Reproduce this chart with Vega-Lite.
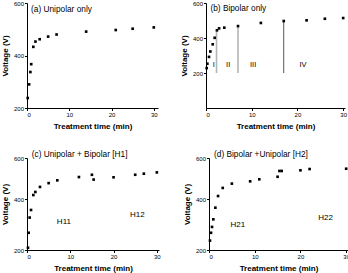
{
  "$schema": "https://vega.github.io/schema/vega-lite/v6.json",
  "padding": {"left": 1, "top": 0, "right": 0, "bottom": 0},
  "background": "white",
  "config": {
    "font": "Liberation Sans",
    "view": {"stroke": null},
    "axis": {
      "grid": false,
      "domainColor": "#000",
      "domainWidth": 1,
      "tickColor": "#000",
      "tickWidth": 1,
      "tickSize": 2,
      "labelPadding": 1,
      "labelOverlap": false,
      "labelFont": "Liberation Sans",
      "labelFontSize": 6,
      "labelColor": "#000",
      "titleFont": "Liberation Sans",
      "titleFontSize": 8,
      "titleFontWeight": "bold",
      "titleColor": "#000"
    },
    "axisX": {"titlePadding": 5},
    "axisY": {"titlePadding": 4},
    "point": {"shape": "square", "filled": true, "color": "#000", "size": 7, "opacity": 1},
    "text": {"font": "Liberation Sans", "color": "#000", "align": "left", "baseline": "middle"}
  },
  "datasets": {
    "unipolar_only": [
      {"time": 0.17, "voltage": 238}, {"time": 0.5, "voltage": 290}, {"time": 0.8, "voltage": 337},
      {"time": 1.0, "voltage": 367}, {"time": 1.5, "voltage": 433}, {"time": 2.0, "voltage": 453},
      {"time": 3.0, "voltage": 462}, {"time": 5.0, "voltage": 472}, {"time": 7.0, "voltage": 480},
      {"time": 14.0, "voltage": 491}, {"time": 21.0, "voltage": 497}, {"time": 25.0, "voltage": 502},
      {"time": 30.0, "voltage": 507}
    ],
    "bipolar_only": [
      {"time": 0.15, "voltage": 228}, {"time": 0.3, "voltage": 253}, {"time": 0.66, "voltage": 292},
      {"time": 0.95, "voltage": 323}, {"time": 1.47, "voltage": 364}, {"time": 1.9, "voltage": 401},
      {"time": 2.4, "voltage": 444}, {"time": 2.86, "voltage": 455}, {"time": 4.0, "voltage": 459},
      {"time": 7.0, "voltage": 468}, {"time": 12.0, "voltage": 486}, {"time": 17.0, "voltage": 497},
      {"time": 22.0, "voltage": 501}, {"time": 26.0, "voltage": 510}, {"time": 30.0, "voltage": 514}
    ],
    "uni_then_bi": [
      {"time": 0.23, "voltage": 209}, {"time": 0.39, "voltage": 268}, {"time": 0.62, "voltage": 328},
      {"time": 0.93, "voltage": 358}, {"time": 1.46, "voltage": 417}, {"time": 1.93, "voltage": 429},
      {"time": 3.0, "voltage": 449}, {"time": 5.0, "voltage": 464}, {"time": 7.0, "voltage": 475},
      {"time": 12.0, "voltage": 488}, {"time": 15.0, "voltage": 497}, {"time": 15.4, "voltage": 478},
      {"time": 20.0, "voltage": 487}, {"time": 25.0, "voltage": 497}, {"time": 27.0, "voltage": 502},
      {"time": 30.0, "voltage": 510}
    ],
    "bi_then_uni": [
      {"time": 0.22, "voltage": 237}, {"time": 0.44, "voltage": 268}, {"time": 0.66, "voltage": 291},
      {"time": 0.95, "voltage": 321}, {"time": 1.39, "voltage": 367}, {"time": 1.98, "voltage": 413},
      {"time": 3.0, "voltage": 445}, {"time": 5.0, "voltage": 462}, {"time": 9.0, "voltage": 471},
      {"time": 11.0, "voltage": 479}, {"time": 15.0, "voltage": 489}, {"time": 15.4, "voltage": 519},
      {"time": 15.9, "voltage": 519}, {"time": 20.0, "voltage": 523}, {"time": 22.0, "voltage": 531},
      {"time": 30.0, "voltage": 533}
    ]
  },
  "spacing": 18,
  "vconcat": [
    {
      "hconcat": [
        {
          "width": 131,
          "height": 105,
          "layer": [
            {
              "data": {"name": "unipolar_only"},
              "mark": "point",
              "encoding": {
                "x": {"field": "time", "type": "quantitative", "title": "Treatment time (min)",
                  "scale": {"domain": [0, 31], "nice": false},
                  "axis": {"values": [0, 2.5, 5, 7.5, 10, 12.5, 15, 17.5, 20, 22.5, 25, 27.5, 30],
                    "labelOverlap": false,
                    "labelExpr": "datum.value % 5 === 0 ? datum.label : ''",
                    "tickSize": {"condition": {"test": "datum.value % 5 === 0", "value": 2.5}, "value": 1.5}}},
                "y": {"field": "voltage", "type": "quantitative", "title": "Voltage (V)",
                  "scale": {"domain": [200, 600], "nice": false},
                  "axis": {"values": [200, 250, 300, 350, 400, 450, 500, 550, 600],
                    "labelOverlap": false,
                    "labelExpr": "datum.value % 100 === 0 ? datum.label : ''",
                    "tickSize": {"condition": {"test": "datum.value % 100 === 0", "value": 2.5}, "value": 1.5}}}
              }
            },
            {
              "data": {"values": [{"time": 0.95, "voltage": 573, "note": "(a) Unipolar only"}]},
              "mark": {"type": "text", "fontSize": 8.3},
              "encoding": {
                "x": {"field": "time", "type": "quantitative"},
                "y": {"field": "voltage", "type": "quantitative"},
                "text": {"field": "note"}
              }
            }
          ]
        },
        {
          "width": 139,
          "height": 105,
          "layer": [
            {
              "data": {"values": [
                {"time": 2.3, "voltage": 445, "base": 200, "shade": "light"},
                {"time": 7.0, "voltage": 468, "base": 200, "shade": "light"},
                {"time": 17.0, "voltage": 497, "base": 200, "shade": "dark"}
              ]},
              "mark": "rule",
              "encoding": {
                "x": {"field": "time", "type": "quantitative"},
                "y": {"field": "voltage", "type": "quantitative"},
                "y2": {"field": "base"},
                "color": {"field": "shade", "type": "nominal", "legend": null,
                  "scale": {"domain": ["light", "dark"], "range": ["#b5b5b5", "#585858"]}},
                "strokeWidth": {"field": "shade", "type": "nominal", "legend": null,
                  "scale": {"domain": ["light", "dark"], "range": [1.6, 1]}}
              }
            },
            {
              "data": {"name": "bipolar_only"},
              "mark": "point",
              "encoding": {
                "x": {"field": "time", "type": "quantitative", "title": "Treatment time (min)",
                  "scale": {"domain": [0, 30.4], "nice": false},
                  "axis": {"values": [0, 2.5, 5, 7.5, 10, 12.5, 15, 17.5, 20, 22.5, 25, 27.5, 30],
                    "labelOverlap": false,
                    "labelExpr": "datum.value % 5 === 0 ? datum.label : ''",
                    "tickSize": {"condition": {"test": "datum.value % 5 === 0", "value": 2.5}, "value": 1.5}}},
                "y": {"field": "voltage", "type": "quantitative", "title": "Voltage (V)",
                  "scale": {"domain": [200, 600], "nice": false},
                  "axis": {"values": [200, 250, 300, 350, 400, 450, 500, 550, 600],
                    "labelOverlap": false,
                    "labelExpr": "datum.value % 100 === 0 ? datum.label : ''",
                    "tickSize": {"condition": {"test": "datum.value % 100 === 0", "value": 2.5}, "value": 1.5}}}
              }
            },
            {
              "data": {"values": [
                {"time": 0.97, "voltage": 567, "note": "(b) Bipolar only"}
              ]},
              "mark": {"type": "text", "fontSize": 8.3},
              "encoding": {
                "x": {"field": "time", "type": "quantitative"},
                "y": {"field": "voltage", "type": "quantitative"},
                "text": {"field": "note"}
              }
            },
            {
              "data": {"values": [
                {"time": 1.7, "voltage": 248, "stage": "I"},
                {"time": 4.85, "voltage": 248, "stage": "II"},
                {"time": 10.3, "voltage": 248, "stage": "III"},
                {"time": 21.2, "voltage": 248, "stage": "IV"}
              ]},
              "mark": {"type": "text", "fontSize": 7.5, "align": "center"},
              "encoding": {
                "x": {"field": "time", "type": "quantitative"},
                "y": {"field": "voltage", "type": "quantitative"},
                "text": {"field": "stage"}
              }
            }
          ]
        }
      ],
      "spacing": 48,
      "bounds": "flush"
    },
    {
      "hconcat": [
        {
          "width": 132,
          "height": 92,
          "layer": [
            {
              "data": {"name": "uni_then_bi"},
              "mark": "point",
              "encoding": {
                "x": {"field": "time", "type": "quantitative", "title": "Treatment time (min)",
                  "scale": {"domain": [0, 30.5], "nice": false},
                  "axis": {"values": [0, 2.5, 5, 7.5, 10, 12.5, 15, 17.5, 20, 22.5, 25, 27.5, 30],
                    "labelOverlap": false,
                    "labelExpr": "datum.value % 5 === 0 ? datum.label : ''",
                    "tickSize": {"condition": {"test": "datum.value % 5 === 0", "value": 2.5}, "value": 1.5}}},
                "y": {"field": "voltage", "type": "quantitative", "title": "Voltage (V)",
                  "scale": {"domain": [200, 500, 600], "range": [92, 16, 0]},
                  "axis": {"values": [200, 250, 300, 350, 400, 450, 500, 550, 600],
                    "labelOverlap": false,
                    "labelExpr": "datum.value % 100 === 0 ? datum.label : ''",
                    "tickSize": {"condition": {"test": "datum.value % 100 === 0", "value": 2.5}, "value": 1.5}}}
              }
            },
            {
              "data": {"values": [
                {"time": 1.1, "voltage": 616, "note": "(c) Unipolar + Bipolar [H1]"}
              ]},
              "mark": {"type": "text", "fontSize": 8.3},
              "encoding": {
                "x": {"field": "time", "type": "quantitative"},
                "y": {"field": "voltage", "type": "quantitative"},
                "text": {"field": "note"}
              }
            },
            {
              "data": {"values": [
                {"time": 6.9, "voltage": 312, "note": "H11"},
                {"time": 23.8, "voltage": 338, "note": "H12"}
              ]},
              "mark": {"type": "text", "fontSize": 8},
              "encoding": {
                "x": {"field": "time", "type": "quantitative"},
                "y": {"field": "voltage", "type": "quantitative"},
                "text": {"field": "note"}
              }
            }
          ]
        },
        {
          "width": 139,
          "height": 92,
          "layer": [
            {
              "data": {"name": "bi_then_uni"},
              "mark": "point",
              "encoding": {
                "x": {"field": "time", "type": "quantitative", "title": "Treatment time (min)",
                  "scale": {"domain": [0, 30.4], "nice": false},
                  "axis": {"values": [0, 2.5, 5, 7.5, 10, 12.5, 15, 17.5, 20, 22.5, 25, 27.5, 30],
                    "labelOverlap": false,
                    "labelExpr": "datum.value % 5 === 0 ? datum.label : ''",
                    "tickSize": {"condition": {"test": "datum.value % 5 === 0", "value": 2.5}, "value": 1.5}}},
                "y": {"field": "voltage", "type": "quantitative", "title": "Voltage (V)",
                  "scale": {"domain": [200, 500, 600], "range": [92, 16, 0]},
                  "axis": {"values": [200, 250, 300, 350, 400, 450, 500, 550, 600],
                    "labelOverlap": false,
                    "labelExpr": "datum.value % 100 === 0 ? datum.label : ''",
                    "tickSize": {"condition": {"test": "datum.value % 100 === 0", "value": 2.5}, "value": 1.5}}}
              }
            },
            {
              "data": {"values": [
                {"time": 1.1, "voltage": 620, "note": "(d) Bipolar +Unipolar [H2]"}
              ]},
              "mark": {"type": "text", "fontSize": 8.3},
              "encoding": {
                "x": {"field": "time", "type": "quantitative"},
                "y": {"field": "voltage", "type": "quantitative"},
                "text": {"field": "note"}
              }
            },
            {
              "data": {"values": [
                {"time": 4.7, "voltage": 297, "note": "H21"},
                {"time": 23.9, "voltage": 328, "note": "H22"}
              ]},
              "mark": {"type": "text", "fontSize": 8},
              "encoding": {
                "x": {"field": "time", "type": "quantitative"},
                "y": {"field": "voltage", "type": "quantitative"},
                "text": {"field": "note"}
              }
            }
          ]
        }
      ],
      "spacing": 50,
      "bounds": "flush"
    }
  ]
}
